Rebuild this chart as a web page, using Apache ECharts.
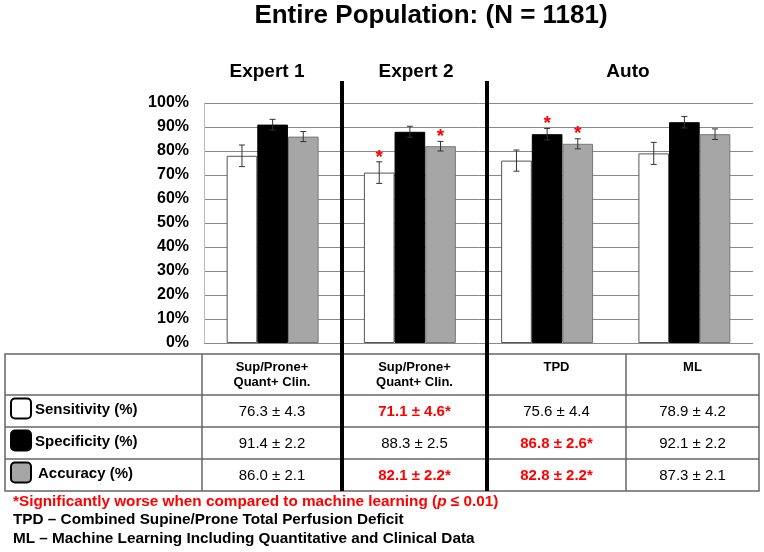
<!DOCTYPE html>
<html><head><meta charset="utf-8">
<script src="https://cdn.jsdelivr.net/npm/echarts@6/dist/echarts.min.js"></script>
<style>html,body{margin:0;padding:0;background:#fff}#c{width:764px;height:552px}</style>
</head><body><div id="c"></div>
<script>
// ---------- data ----------
const titleText = 'Entire Population: (N = 1181)';
const groupHeaders = ['Expert 1', 'Expert 2', 'Auto'];
const categories = ['Expert 1', 'Expert 2', 'TPD', 'ML'];
const seriesNames = ['Sensitivity (%)', 'Specificity (%)', 'Accuracy (%)'];
const sensitivity = [78, 71, 76, 79];
const specificity = [91, 88, 87, 92];
const accuracy = [86, 82, 83, 87];
const sensErr = [4.5, 4.5, 4.4, 4.6];
const specErr = [2.2, 2.3, 2.4, 2.4];
const accErr = [2.1, 2.0, 2.1, 2.2];
const sensSig = [false, true, false, false];
const specSig = [false, false, true, false];
const accSig = [false, true, true, false];
const columnHeaders = ['Sup/Prone+\nQuant+ Clin.', 'Sup/Prone+\nQuant+ Clin.', 'TPD', 'ML'];
const sensText = ['76.3 ± 4.3', '71.1 ± 4.6*', '75.6 ± 4.4', '78.9 ± 4.2'];
const specText = ['91.4 ± 2.2', '88.3 ± 2.5', '86.8 ± 2.6*', '92.1 ± 2.2'];
const accText = ['86.0 ± 2.1', '82.1 ± 2.2*', '82.8 ± 2.2*', '87.3 ± 2.1'];
const footSig = '*Significantly worse when compared to machine learning (';
const footSigP = 'p';
const footSigEnd = ' ≤ 0.01)';
const footTPD = 'TPD – Combined Supine/Prone Total Perfusion Deficit';
const footML = 'ML – Machine Learning Including Quantitative and Clinical Data';

// ---------- styles ----------
const FONT = '"Liberation Sans", Arial, Helvetica, sans-serif';
const fills = ['#ffffff', '#000000', '#a6a6a6'];
const borders = ['#555555', '#000000', '#777777'];
const GAP = 0.33;

const values = [sensitivity, specificity, accuracy];
const errs = [sensErr, specErr, accErr];
const sigs = [sensSig, specSig, accSig];
const texts = [sensText, specText, accText];

function errSeries(k) {
  return {
    type: 'custom', name: seriesNames[k] + ' err', z: 5, silent: true,
    encode: { x: 0, y: [1, 2] },
    data: categories.map((c, i) => [i, values[k][i] - errs[k][i], values[k][i] + errs[k][i], sigs[k][i] ? 1 : 0]),
    renderItem(params, api) {
      const ci = api.value(0);
      const band = api.size([1, 0])[0];
      const barW = band * (1 - GAP) / 3;
      const cx = api.coord([ci, 0])[0] + (k - 1) * barW;
      const yLo = api.coord([ci, api.value(1)])[1];
      const yHi = api.coord([ci, api.value(2)])[1];
      const st = { stroke: '#333', lineWidth: 1 };
      const ch = [
        { type: 'line', shape: { x1: cx, y1: yLo, x2: cx, y2: yHi }, style: st },
        { type: 'line', shape: { x1: cx - 3, y1: yLo, x2: cx + 3, y2: yLo }, style: st },
        { type: 'line', shape: { x1: cx - 3, y1: yHi, x2: cx + 3, y2: yHi }, style: st }
      ];
      if (api.value(3)) {
        ch.push({ type: 'text', style: { text: '*', x: cx, y: yHi - 14, fill: '#ff0000',
          font: 'bold 19px ' + FONT, textAlign: 'center', textVerticalAlign: 'top' } });
      }
      return { type: 'group', children: ch };
    }
  };
}

// table geometry
const colX = [5, 202, 342, 487, 626, 759];
const rowY = [354, 395, 427, 459, 491];
const g = [];
g.push({ type: 'rect', shape: { x: colX[0], y: rowY[0], width: colX[5] - colX[0], height: rowY[4] - rowY[0] },
  style: { fill: 'none', stroke: '#666', lineWidth: 1.5 }, z: 10 });
for (let r = 1; r < 4; r++) g.push({ type: 'line', shape: { x1: colX[0], y1: rowY[r], x2: colX[5], y2: rowY[r] }, style: { stroke: '#666', lineWidth: 1.5 }, z: 10 });
for (let c = 1; c < 5; c++) g.push({ type: 'line', shape: { x1: colX[c], y1: rowY[0], x2: colX[c], y2: rowY[4] }, style: { stroke: '#666', lineWidth: 1.5 }, z: 10 });
[342, 487].forEach(x => g.push({ type: 'rect', shape: { x: x - 2, y: 81, width: 4, height: 410 }, style: { fill: '#000' }, z: 20 }));
columnHeaders.forEach((t, i) => g.push({ type: 'text', z: 20, style: {
  text: t, x: (colX[i + 1] + colX[i + 2]) / 2, y: 360, textAlign: 'center', textVerticalAlign: 'top',
  font: 'bold 13px ' + FONT, lineHeight: 15, fill: '#000' } }));
seriesNames.forEach((t, r) => {
  const cy = (rowY[r + 1] + rowY[r + 2]) / 2;
  g.push({ type: 'rect', z: 20, shape: { x: 11, y: cy - 12.5, width: 20, height: 20, r: 4 },
    style: { fill: fills[r], stroke: '#000', lineWidth: 2 } });
  g.push({ type: 'text', z: 20, style: { text: t, x: r === 2 ? 38 : 35, y: cy - 1.5, textVerticalAlign: 'middle',
    font: 'bold 15px ' + FONT, fill: '#000' } });
  texts[r].forEach((v, i) => g.push({ type: 'text', z: 20, style: {
    text: v, x: (colX[i + 1] + colX[i + 2]) / 2, y: cy + 1, textAlign: 'center', textVerticalAlign: 'middle',
    font: (sigs[r][i] ? 'bold ' : '') + '15px ' + FONT, fill: sigs[r][i] ? '#ff0000' : '#000' } }));
});
g.push({ type: 'text', z: 20, style: { text: titleText, x: 431, y: 16, textAlign: 'center', textVerticalAlign: 'middle', font: 'bold 26px ' + FONT, fill: '#000' } });
const hdrX = [267, 416, 628];
groupHeaders.forEach((t, i) => g.push({ type: 'text', z: 20, style: { text: t, x: hdrX[i], y: 72, textAlign: 'center', textVerticalAlign: 'middle', font: 'bold 19px ' + FONT, fill: '#000' } }));
g.push({ type: 'text', z: 20, style: { x: 13, y: 502, textVerticalAlign: 'middle',
  text: '{a|' + footSig + '}{b|' + footSigP + '}{a|' + footSigEnd + '}',
  rich: { a: { font: 'bold 15.3px ' + FONT, fill: '#ff0000' }, b: { font: 'italic bold 15.3px ' + FONT, fill: '#ff0000' } } } });
g.push({ type: 'text', z: 20, style: { text: footTPD, x: 13, y: 520, textVerticalAlign: 'middle', font: 'bold 15.3px ' + FONT, fill: '#000' } });
g.push({ type: 'text', z: 20, style: { text: footML, x: 13, y: 538.5, textVerticalAlign: 'middle', font: 'bold 15.3px ' + FONT, fill: '#000' } });

const chart = echarts.init(document.getElementById('c'), null, { renderer: 'canvas' });
chart.setOption({
  animation: false,
  backgroundColor: '#fff',
  grid: { left: 204, right: 11, top: 103, height: 240 },
  xAxis: { type: 'category', data: categories, axisLine: { show: false }, axisTick: { show: false }, axisLabel: { show: false } },
  yAxis: {
    type: 'value', min: 0, max: 100, interval: 10,
    axisLine: { show: true, lineStyle: { color: '#bbb' } }, axisTick: { show: false },
    axisLabel: { formatter: '{value}%', color: '#000', fontFamily: FONT, fontWeight: 'bold', fontSize: 16, margin: 15 },
    splitLine: { lineStyle: { color: '#888', width: 1 } }
  },
  series: [0, 1, 2].map(k => ({
    type: 'bar', name: seriesNames[k], data: values[k], barGap: '0%', barCategoryGap: (GAP * 100) + '%',
    itemStyle: { color: fills[k], borderColor: borders[k], borderWidth: 1 }
  })).concat([0, 1, 2].map(errSeries)),
  graphic: { elements: g }
});
</script></body></html>
